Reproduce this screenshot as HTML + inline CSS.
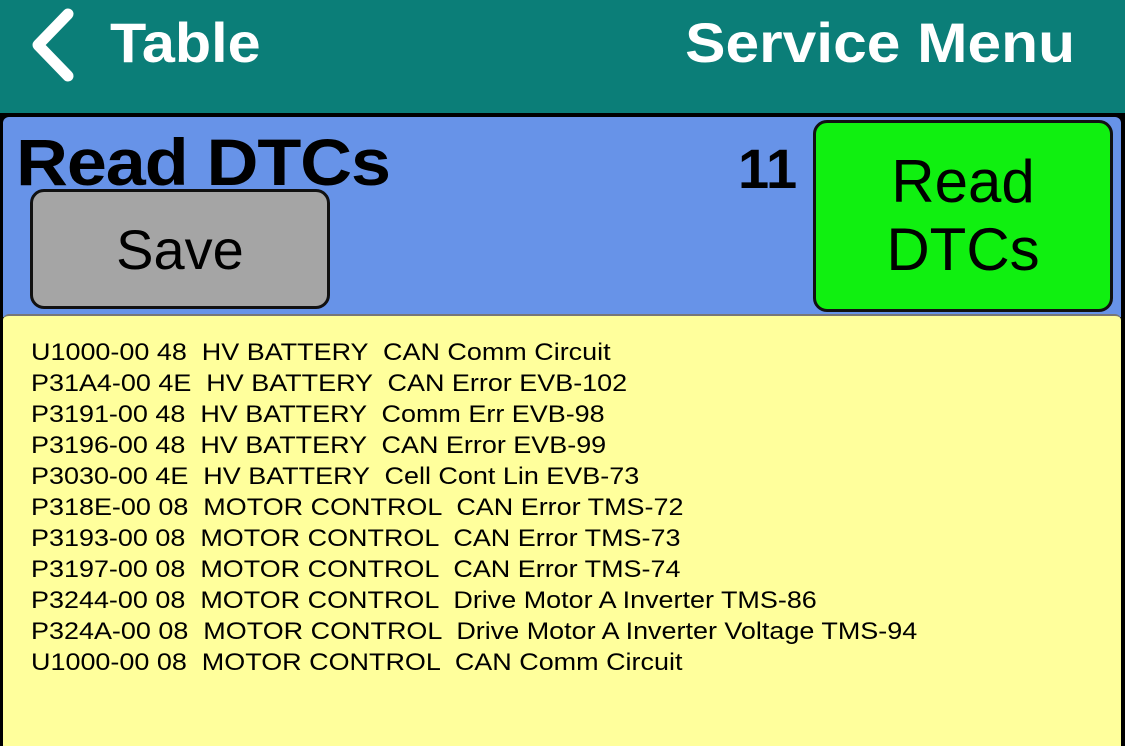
<!DOCTYPE html>
<html><head><style>
body{margin:0;width:1125px;height:733px;overflow:hidden;background:#000;font-family:"Liberation Sans",sans-serif;position:relative}
.hdr{position:absolute;left:0;top:0;width:1125px;height:113px;background:#0b7e78}
.blue{position:absolute;left:3px;top:117px;width:1118px;height:200px;background:#6793e8;border-radius:6px 6px 0 0}
.yel{position:absolute;left:3px;top:314px;width:1118px;height:430px;background:#ffff9c;border-radius:6px 6px 0 0;border-top:2px solid #777}
.btn{position:absolute;border:3px solid #111;border-radius:14px;box-sizing:border-box;display:flex;align-items:center;justify-content:center;text-align:center;color:#000}
.lines{position:absolute;left:31px;top:337px;font-size:24.5px;line-height:31px;color:#000;white-space:pre;transform:scaleX(1.1);transform-origin:0 0}
</style></head><body>
<div class="hdr">
<svg style="position:absolute;left:28px;top:8px" width="50" height="74"><polyline points="40,6 10,37 40,68" fill="none" stroke="#fff" stroke-width="11" stroke-linecap="round" stroke-linejoin="round"/></svg>
<div style="position:absolute;left:110px;top:10px;font-size:56px;font-weight:bold;color:#fff;transform:scaleX(1.06);transform-origin:0 0">Table</div>
<div style="position:absolute;right:50px;top:10px;font-size:56px;font-weight:bold;color:#fff;transform:scaleX(1.08);transform-origin:100% 0">Service Menu</div>
</div>
<div class="blue"></div>
<div style="position:absolute;left:16px;top:124px;font-size:66px;font-weight:bold;letter-spacing:-1px;transform:scaleX(1.09);transform-origin:0 0">Read DTCs</div>
<div style="position:absolute;left:738px;top:136px;font-size:56px;font-weight:bold">11</div>
<div class="btn" style="left:30px;top:189px;width:300px;height:120px;background:#a5a5a5;font-size:56px">Save</div>
<div class="btn" style="left:813px;top:120px;width:300px;height:192px;background:#10f010;font-size:60px;line-height:68px">Read<br>DTCs</div>
<div class="yel"></div>
<div class="lines">U1000-00 48  HV BATTERY  CAN Comm Circuit
P31A4-00 4E  HV BATTERY  CAN Error EVB-102
P3191-00 48  HV BATTERY  Comm Err EVB-98
P3196-00 48  HV BATTERY  CAN Error EVB-99
P3030-00 4E  HV BATTERY  Cell Cont Lin EVB-73
P318E-00 08  MOTOR CONTROL  CAN Error TMS-72
P3193-00 08  MOTOR CONTROL  CAN Error TMS-73
P3197-00 08  MOTOR CONTROL  CAN Error TMS-74
P3244-00 08  MOTOR CONTROL  Drive Motor A Inverter TMS-86
P324A-00 08  MOTOR CONTROL  Drive Motor A Inverter Voltage TMS-94
U1000-00 08  MOTOR CONTROL  CAN Comm Circuit</div>
</body></html>
